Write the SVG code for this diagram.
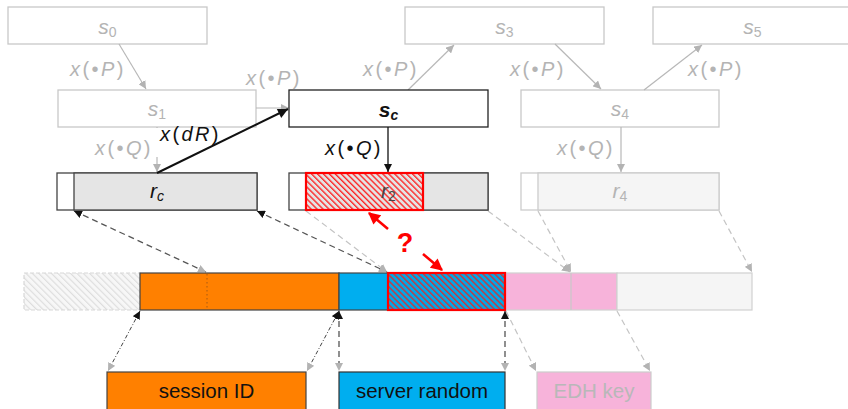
<svg xmlns="http://www.w3.org/2000/svg" width="848" height="409" viewBox="0 0 848 409">
  <style>
    text { font-family: "Liberation Sans", Arial, sans-serif; }
    .it { font-style: italic; }
    .faint { fill: #b4b4b4; }
    .ink { fill: #111111; }
    .lbl { font-size: 20px; letter-spacing: 2.4px; }
    .nm { font-size: 21px; }
    .sub { font-size: 14px; }
    .boxFaint { fill: #ffffff; stroke: #c8c8c8; stroke-width: 1.3; }
    .boxInk { fill: #ffffff; stroke: #222222; stroke-width: 1.3; }
    .lnFaint { stroke: #b8b8b8; stroke-width: 1.2; fill: none; }
    .lnInk { stroke: #111111; fill: none; }
    .dashInk { stroke: #555555; stroke-width: 1.3; stroke-dasharray: 6 4; fill: none; }
    .dashFaint { stroke: #c4c4c4; stroke-width: 1.2; stroke-dasharray: 6 4; fill: none; }
    .dashFine { stroke: #444444; stroke-width: 1; stroke-dasharray: 4 2 1 2; fill: none; }
    .field { font-size: 20.5px; }
  </style>
  <defs>
    <marker id="hGray" viewBox="0 0 10 10" refX="10" refY="5" markerWidth="8" markerHeight="8" markerUnits="userSpaceOnUse" orient="auto-start-reverse">
      <path d="M0,0 L10,5 L0,10 z" fill="#b3b3b3"/>
    </marker>
    <marker id="hBlack" viewBox="0 0 10 10" refX="10" refY="5" markerWidth="8" markerHeight="8" markerUnits="userSpaceOnUse" orient="auto-start-reverse">
      <path d="M0,0 L10,5 L0,10 z" fill="#111111"/>
    </marker>
    <marker id="hBig" viewBox="0 0 10 10" refX="10" refY="5" markerWidth="12" markerHeight="10" markerUnits="userSpaceOnUse" orient="auto-start-reverse">
      <path d="M0,0 L10,5 L0,10 z" fill="#111111"/>
    </marker>
    <marker id="hRed" viewBox="0 0 10 10" refX="9" refY="5" markerWidth="14" markerHeight="12" markerUnits="userSpaceOnUse" orient="auto-start-reverse">
      <path d="M0,0 L10,5 L0,10 z" fill="#ff0000"/>
    </marker>
    <pattern id="hatchRedGray" width="4.2" height="4.2" patternUnits="userSpaceOnUse" patternTransform="rotate(-45)">
      <rect width="4.2" height="4.2" fill="#e4e4e4"/>
      <line x1="0.7" y1="0" x2="0.7" y2="4.2" stroke="#ff1a1a" stroke-width="1.3"/>
    </pattern>
    <pattern id="hatchRedBlue" width="4.2" height="4.2" patternUnits="userSpaceOnUse" patternTransform="rotate(-45)">
      <rect width="4.2" height="4.2" fill="#00a8e8"/>
      <line x1="0.7" y1="0" x2="0.7" y2="4.2" stroke="#e02a2a" stroke-width="1.3"/>
    </pattern>
    <pattern id="hatchPale" width="4.5" height="4.5" patternUnits="userSpaceOnUse" patternTransform="rotate(-45)">
      <rect width="4.5" height="4.5" fill="#f7f7f7"/>
      <line x1="0.6" y1="0" x2="0.6" y2="4.5" stroke="#dcdcdc" stroke-width="1.1"/>
    </pattern>
  </defs>

  <!-- state chain -->
  <g id="s0">
    <rect class="boxFaint" x="8" y="7" width="199" height="37"/>
    <text class="nm faint" x="107.5" y="34" text-anchor="middle"><tspan class="it">s</tspan><tspan class="sub" dy="3">0</tspan></text>
  </g>
  <g id="s1">
    <rect class="boxFaint" x="58" y="90" width="198" height="37"/>
    <text class="nm faint" x="157" y="116" text-anchor="middle"><tspan class="it">s</tspan><tspan class="sub" dy="3">1</tspan></text>
  </g>
  <g id="s3">
    <rect class="boxFaint" x="405" y="7" width="199" height="37"/>
    <text class="nm faint" x="504.5" y="34" text-anchor="middle"><tspan class="it">s</tspan><tspan class="sub" dy="3">3</tspan></text>
  </g>
  <g id="s4">
    <rect class="boxFaint" x="521" y="90" width="198" height="37"/>
    <text class="nm faint" x="620" y="116" text-anchor="middle"><tspan class="it">s</tspan><tspan class="sub" dy="3">4</tspan></text>
  </g>
  <g id="s5">
    <rect class="boxFaint" x="653" y="7" width="199" height="37"/>
    <text class="nm faint" x="752.5" y="34" text-anchor="middle"><tspan class="it">s</tspan><tspan class="sub" dy="3">5</tspan></text>
  </g>

  <!-- random values derived from the states -->
  <g id="r4">
    <rect x="521" y="173" width="198" height="37" fill="#ffffff" stroke="#cccccc" stroke-width="1.3"/>
    <rect x="538" y="173" width="181" height="37" fill="#f5f5f5" stroke="#cccccc" stroke-width="1.3"/>
    <text class="nm faint" x="620" y="198" text-anchor="middle"><tspan class="it">r</tspan><tspan class="sub" dy="3">4</tspan></text>
  </g>

  <g id="connectors">
    <!-- faint state transitions -->
    <line class="lnFaint" x1="119" y1="44" x2="146" y2="89" marker-end="url(#hGray)"/>
    <line class="lnFaint" x1="256" y1="108" x2="289" y2="108" marker-end="url(#hGray)"/>
    <line class="lnFaint" x1="408" y1="90" x2="454" y2="45" marker-end="url(#hGray)"/>
    <line class="lnFaint" x1="555" y1="44" x2="601" y2="89" marker-end="url(#hGray)"/>
    <line class="lnFaint" x1="644" y1="90" x2="702" y2="45" marker-end="url(#hGray)"/>
    <line class="lnFaint" x1="157" y1="127" x2="157" y2="172" marker-end="url(#hGray)"/>
    <line class="lnFaint" x1="621" y1="127" x2="621" y2="172" marker-end="url(#hGray)"/>

    <!-- faint dashed mappings into the byte layout -->
    <line class="dashFaint" x1="306" y1="211" x2="387" y2="272" marker-end="url(#hGray)"/>
    <line class="dashFaint" x1="488" y1="211" x2="570" y2="272" marker-end="url(#hGray)"/>
    <line class="dashFaint" x1="538" y1="211" x2="571" y2="272" marker-end="url(#hGray)"/>
    <line class="dashFaint" x1="719" y1="211" x2="752" y2="272" marker-end="url(#hGray)"/>
    <line class="dashFaint" x1="506" y1="311" x2="536" y2="371" marker-end="url(#hGray)"/>
    <line class="dashFaint" x1="617" y1="311" x2="650" y2="371" marker-end="url(#hGray)"/>

    <!-- dark dashed mappings -->
    <line class="dashInk" x1="74" y1="211" x2="206" y2="272" marker-start="url(#hBlack)" marker-end="url(#hGray)"/>
    <line class="dashInk" x1="257" y1="211" x2="387" y2="272" marker-start="url(#hBlack)" marker-end="url(#hGray)"/>
    <line class="dashFine" x1="140" y1="311" x2="108" y2="371" marker-start="url(#hBlack)" marker-end="url(#hGray)"/>
    <line class="dashFine" x1="339" y1="311" x2="307" y2="371" marker-start="url(#hBlack)" marker-end="url(#hGray)"/>
    <line class="dashInk" x1="339" y1="311" x2="339" y2="371" marker-start="url(#hBlack)" marker-end="url(#hGray)"/>
    <line class="dashInk" x1="505" y1="311" x2="505" y2="371" marker-start="url(#hBlack)" marker-end="url(#hGray)"/>
  </g>

  <!-- faint transition labels -->
  <g id="transition-labels">
    <text class="lbl faint" x="70" y="76"><tspan class="it">x</tspan>(•<tspan class="it">P</tspan>)</text>
    <text class="lbl faint" x="246" y="85"><tspan class="it">x</tspan>(•<tspan class="it">P</tspan>)</text>
    <text class="lbl faint" x="363" y="76"><tspan class="it">x</tspan>(•<tspan class="it">P</tspan>)</text>
    <text class="lbl faint" x="510" y="76"><tspan class="it">x</tspan>(•<tspan class="it">P</tspan>)</text>
    <text class="lbl faint" x="688" y="76"><tspan class="it">x</tspan>(•<tspan class="it">P</tspan>)</text>
    <text class="lbl faint" x="95" y="155"><tspan class="it">x</tspan>(•<tspan class="it">Q</tspan>)</text>
    <text class="lbl faint" x="557" y="155"><tspan class="it">x</tspan>(•<tspan class="it">Q</tspan>)</text>
  </g>

  <g id="sc">
    <rect class="boxInk" x="289" y="90" width="199" height="37"/>
    <text class="nm ink" x="388.5" y="117" text-anchor="middle" font-weight="bold"><tspan class="it">s</tspan><tspan class="sub it" dy="3">c</tspan></text>
  </g>

  <g id="rc">
    <rect x="57" y="173" width="200" height="37" fill="#ffffff" stroke="#444444" stroke-width="1.3"/>
    <rect x="74" y="173" width="183" height="37" fill="#e5e5e5" stroke="#444444" stroke-width="1.3"/>
    <text class="nm ink" x="157" y="198" text-anchor="middle"><tspan class="it">r</tspan><tspan class="sub it" dy="3">c</tspan></text>
  </g>

  <g id="r2">
    <rect x="289" y="173" width="199" height="37" fill="#ffffff" stroke="#444444" stroke-width="1.3"/>
    <rect x="306" y="173" width="182" height="37" fill="#e5e5e5" stroke="#444444" stroke-width="1.3"/>
    <rect x="306" y="173" width="117" height="37" fill="url(#hatchRedGray)" stroke="#ff0000" stroke-width="2.2"/>
    <text class="nm" fill="#444444" x="388.5" y="198" text-anchor="middle"><tspan class="it">r</tspan><tspan class="sub" dy="3">2</tspan></text>
  </g>

  <!-- derivation of r_c from s_1 into s_c -->
  <g id="derive-rc">
    <rect x="152" y="128" width="62" height="29" fill="#ffffff"/>
    <line class="lnInk" stroke-width="2" x1="157" y1="173" x2="288" y2="109" marker-end="url(#hBig)"/>
    <text class="lbl ink" x="160" y="141"><tspan class="it">x</tspan>(<tspan class="it">dR</tspan>)</text>
    <line class="lnInk" stroke-width="1.3" x1="388" y1="127" x2="388" y2="172" marker-end="url(#hBlack)"/>
    <text class="lbl ink" x="325" y="155"><tspan class="it">x</tspan>(•<tspan class="it">Q</tspan>)</text>
  </g>

  <!-- handshake byte layout -->
  <g id="layout">
    <rect x="24" y="273" width="116" height="37" fill="url(#hatchPale)" stroke="#d8d8d8" stroke-width="1.2" stroke-dasharray="4 2"/>
    <rect x="140" y="273" width="199" height="37" fill="#ff8000" stroke="#444444" stroke-width="1.2"/>
    <line x1="207" y1="274" x2="207" y2="309" stroke="#a85a10" stroke-width="1" stroke-dasharray="1.5 2.5"/>
    <rect x="339" y="273" width="166" height="37" fill="#00aeef" stroke="#444444" stroke-width="1.2"/>
    <rect x="505" y="273" width="112" height="37" fill="#f7b3da" stroke="#d0d0d0" stroke-width="1.2"/>
    <line x1="571" y1="273" x2="571" y2="310" stroke="#c8c8c8" stroke-width="1.2"/>
    <rect x="617" y="273" width="135" height="37" fill="#f5f5f5" stroke="#d0d0d0" stroke-width="1.2"/>
    <rect x="388" y="273" width="117" height="37" fill="url(#hatchRedBlue)" stroke="#ff0000" stroke-width="2.2"/>
  </g>

  <g id="session-id">
    <rect x="107" y="372" width="199" height="45" fill="#ff8000" stroke="#444444" stroke-width="1.2"/>
    <text class="field" fill="#111111" x="206.5" y="398" text-anchor="middle">session ID</text>
  </g>
  <g id="server-random">
    <rect x="339" y="372" width="166" height="45" fill="#00aeef" stroke="#333333" stroke-width="1.2"/>
    <text class="field" fill="#111111" x="422" y="398" text-anchor="middle">server random</text>
  </g>
  <g id="edh-key">
    <rect x="537" y="372" width="114" height="45" fill="#f7b3da" stroke="#cccccc" stroke-width="1.2"/>
    <text class="field" fill="#b8b8b8" x="594" y="398" text-anchor="middle">EDH key</text>
  </g>

  <!-- open question: does r2 line up with the random field? -->
  <g id="question">
    <line stroke="#ff0000" stroke-width="2.6" x1="388" y1="229" x2="369" y2="213" marker-end="url(#hRed)"/>
    <line stroke="#ff0000" stroke-width="2.6" x1="423" y1="254" x2="442" y2="270" marker-end="url(#hRed)"/>
    <text x="405" y="252" text-anchor="middle" font-size="27" font-weight="bold" fill="#ff0000">?</text>
  </g>
</svg>
